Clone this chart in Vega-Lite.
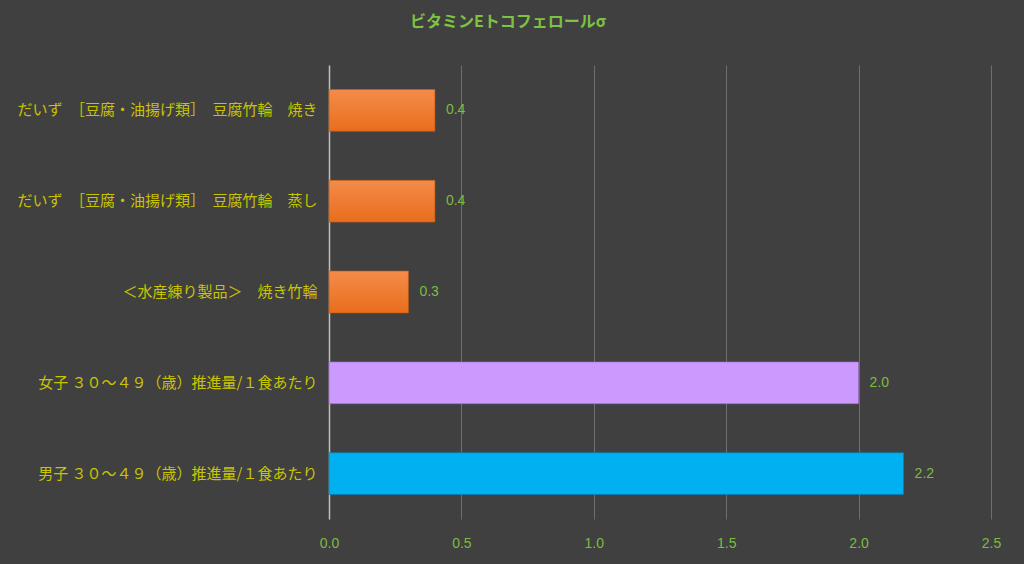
{
  "$schema": "https://vega.github.io/schema/vega-lite/v6.json",
  "width": 662,
  "height": 454,
  "autosize": {"type": "none"},
  "padding": {"left": 329, "top": 65, "right": 33, "bottom": 45},
  "background": "#404040",
  "title": {
    "text": "ビタミンEトコフェロールσ",
    "anchor": "middle",
    "frame": "group",
    "dx": -152,
    "offset": 35,
    "color": "#7DC242",
    "font": "Noto Sans CJK JP",
    "fontSize": 16,
    "fontWeight": "bold"
  },
  "config": {
    "view": {"stroke": null},
    "font": "Noto Sans CJK JP"
  },
  "data": {
    "values": [
      {"name": "だいず　［豆腐・油揚げ類］　豆腐竹輪　焼き", "value": 0.4, "group": "food"},
      {"name": "だいず　［豆腐・油揚げ類］　豆腐竹輪　蒸し", "value": 0.4, "group": "food"},
      {"name": "＜水産練り製品＞　焼き竹輪", "value": 0.3, "group": "food"},
      {"name": "女子 ３０～４９（歳）推進量/１食あたり", "value": 2.0, "group": "female"},
      {"name": "男子 ３０～４９（歳）推進量/１食あたり", "value": 2.17, "group": "male"}
    ]
  },
  "encoding": {
    "y": {
      "field": "name",
      "type": "nominal",
      "sort": null,
      "scale": {"paddingInner": 0.54, "paddingOuter": 0.27},
      "axis": {
        "title": null,
        "labelColor": "#C8C400",
        "labelFont": "Noto Sans CJK JP",
        "labelFontSize": 15,
        "labelPadding": 12,
        "labelLimit": 400,
        "ticks": false,
        "domain": true,
        "domainColor": "#BFBFBF",
        "domainWidth": 1.5,
        "grid": false
      }
    },
    "x": {
      "field": "value",
      "type": "quantitative",
      "scale": {"domain": [0, 2.5], "nice": false},
      "axis": {
        "title": null,
        "values": [0, 0.5, 1, 1.5, 2, 2.5],
        "format": ".1f",
        "labelColor": "#7DBB42",
        "labelFont": "Liberation Sans",
        "labelFontSize": 14,
        "labelFlush": false,
        "labelPadding": 17,
        "ticks": false,
        "domain": false,
        "grid": true,
        "gridColor": "#6E6E6E",
        "gridWidth": 1
      }
    }
  },
  "layer": [
    {
      "transform": [{"filter": "datum.group === 'food'"}],
      "mark": {
        "type": "bar",
        "stroke": "#C55A11",
        "strokeWidth": 0.6,
        "fill": {
          "gradient": "linear",
          "x1": 0, "y1": 0, "x2": 0, "y2": 1,
          "stops": [
            {"offset": 0, "color": "#F48B4A"},
            {"offset": 1, "color": "#E86E1C"}
          ]
        }
      }
    },
    {
      "transform": [{"filter": "datum.group !== 'food'"}],
      "mark": {"type": "bar", "strokeWidth": 0.6},
      "encoding": {
        "color": {
          "field": "group",
          "type": "nominal",
          "scale": {"domain": ["female", "male"], "range": ["#CC99FF", "#00B0F0"]},
          "legend": null
        },
        "stroke": {
          "field": "group",
          "type": "nominal",
          "scale": {"domain": ["female", "male"], "range": ["#9966CC", "#0080B0"]},
          "legend": null
        }
      }
    },
    {
      "mark": {
        "type": "text",
        "align": "left",
        "baseline": "middle",
        "dx": 11,
        "color": "#7DBB42",
        "font": "Liberation Sans",
        "fontSize": 14
      },
      "encoding": {
        "text": {"field": "value", "type": "quantitative", "format": ".1f"}
      }
    }
  ]
}
